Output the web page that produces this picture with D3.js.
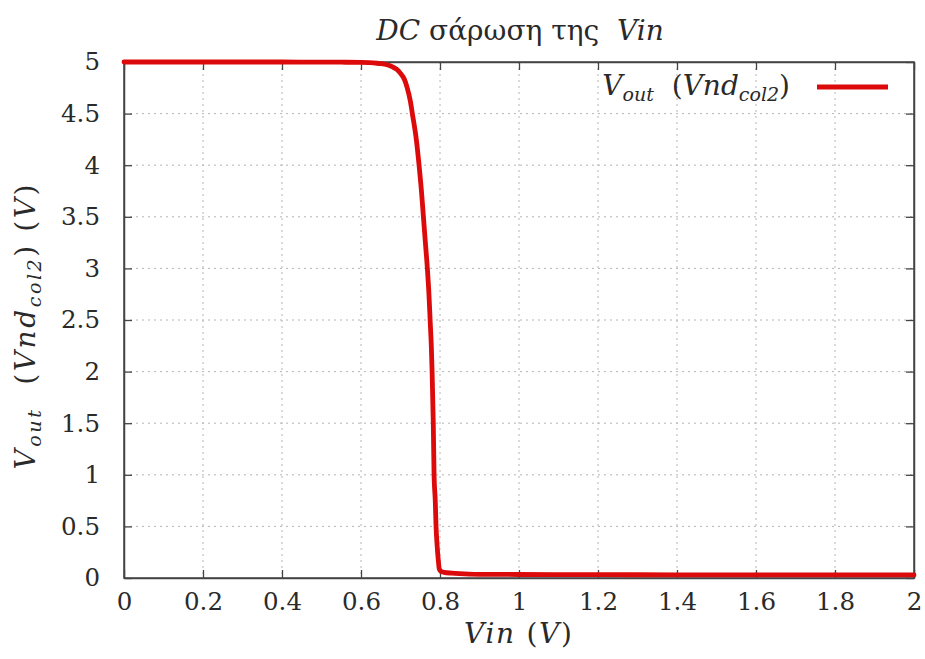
<!DOCTYPE html>
<html>
<head>
<meta charset="utf-8">
<script src="https://cdn.jsdelivr.net/npm/d3@7"></script>
<style>
  html, body { margin: 0; padding: 0; background: #fff; }
</style>
</head>
<body>
<svg id="chart" width="925" height="659"></svg>
<script>
// DC sweep of Vin: input voltage (V) and output voltage (V)
const vin  = [0, 0.1, 0.2, 0.3, 0.4, 0.5, 0.55, 0.6, 0.62, 0.64, 0.65, 0.66, 0.67, 0.68, 0.69, 0.70, 0.71, 0.717, 0.725, 0.73, 0.74, 0.747, 0.753, 0.758, 0.763, 0.768, 0.772, 0.775, 0.778, 0.780, 0.783, 0.785, 0.788, 0.790, 0.793, 0.796, 0.798, 0.802, 0.81, 0.83, 0.85, 0.874, 0.9, 1.0, 1.2, 1.4, 1.6, 1.8, 2.0];
const vout = [5, 5, 5, 5, 5, 4.999, 4.998, 4.996, 4.993, 4.988, 4.984, 4.978, 4.968, 4.952, 4.93, 4.89, 4.83, 4.75, 4.62, 4.5, 4.25, 4.0, 3.75, 3.5, 3.25, 3.0, 2.75, 2.5, 2.25, 2.0, 1.5, 1.0, 0.75, 0.5, 0.3, 0.16, 0.09, 0.065, 0.055, 0.047, 0.042, 0.038, 0.036, 0.034, 0.032, 0.031, 0.031, 0.03, 0.03];

const xTicks = [0, 0.2, 0.4, 0.6, 0.8, 1, 1.2, 1.4, 1.6, 1.8, 2];
const yTicks = [0, 0.5, 1, 1.5, 2, 2.5, 3, 3.5, 4, 4.5, 5];

const svg = d3.select("#chart");
const plotL = 124, plotR = 914, plotT = 62, plotB = 578;
const lineColor = "#dc0a0a";
const FONT = '"DejaVu Serif", "Liberation Serif", serif';
const TXT = "#2a2a2a";

const x = d3.scaleLinear().domain([0, 2]).range([plotL, plotR]);
const y = d3.scaleLinear().domain([0, 5]).range([plotB, plotT]);

// dotted grid
const grid = svg.append("g").attr("stroke", "#b4b4b4").attr("stroke-width", 1).attr("stroke-dasharray", "2,4");
xTicks.slice(1, -1).forEach(t => {
  grid.append("line").attr("x1", x(t)).attr("x2", x(t)).attr("y1", plotT).attr("y2", plotB);
});
yTicks.slice(1, -1).forEach(t => {
  grid.append("line").attr("x1", plotL).attr("x2", plotR).attr("y1", y(t)).attr("y2", y(t));
});

// axes with inward ticks on all four sides
const tickLen = 8;
const fmt = d => String(d);
const gB = svg.append("g").attr("transform", `translate(0,${plotB})`)
  .call(d3.axisBottom(x).tickValues(xTicks).tickFormat(fmt).tickSizeInner(-tickLen).tickSizeOuter(0).tickPadding(15));
const gT = svg.append("g").attr("transform", `translate(0,${plotT})`)
  .call(d3.axisTop(x).tickValues(xTicks).tickFormat("").tickSizeInner(-tickLen).tickSizeOuter(0));
const gL = svg.append("g").attr("transform", `translate(${plotL},0)`)
  .call(d3.axisLeft(y).tickValues(yTicks).tickFormat(fmt).tickSizeInner(-tickLen).tickSizeOuter(0).tickPadding(24));
const gR = svg.append("g").attr("transform", `translate(${plotR},0)`)
  .call(d3.axisRight(y).tickValues(yTicks).tickFormat("").tickSizeInner(-tickLen).tickSizeOuter(0));

[gB, gT, gL, gR].forEach(g => {
  g.select(".domain").attr("stroke", "#444").attr("stroke-width", 1.5);
  g.selectAll(".tick line").attr("stroke", "#444").attr("stroke-width", 1.3);
  g.selectAll("text").style("font-family", FONT).style("font-size", "24.5px").attr("fill", TXT);
});
gB.selectAll("text").attr("dy", "0.71em");

// frame
svg.append("rect").attr("x", plotL).attr("y", plotT).attr("width", plotR - plotL).attr("height", plotB - plotT)
  .attr("fill", "none").attr("stroke", "#444").attr("stroke-width", 1.5);

// curve
const pts = vin.map((v, i) => [v, vout[i]]);
svg.append("path").datum(pts)
  .attr("fill", "none").attr("stroke", lineColor).attr("stroke-width", 4.8)
  .attr("stroke-linejoin", "round").attr("stroke-linecap", "round")
  .attr("d", d3.line().x(d => x(d[0])).y(d => y(d[1])).curve(d3.curveMonotoneX));

function label(sel) {
  return sel.style("font-family", FONT).style("font-size", "28px").style("white-space", "pre").attr("fill", TXT);
}

// title
const title = label(svg.append("text").attr("x", 520).attr("y", 40).attr("text-anchor", "middle"));
title.append("tspan").attr("font-style", "italic").text("DC");
title.append("tspan").text(" σάρωση της  ");
title.append("tspan").attr("font-style", "italic").text("Vin");

// x-axis label
const xl = label(svg.append("text").attr("x", 518).attr("y", 643).attr("text-anchor", "middle")
  .attr("textLength", 108).attr("lengthAdjust", "spacing"));
xl.append("tspan").attr("font-style", "italic").text("Vin");
xl.append("tspan").text(" (");
xl.append("tspan").attr("font-style", "italic").text("V");
xl.append("tspan").text(")");

// y-axis label
const yl = label(svg.append("text").attr("transform", "translate(35,327) rotate(-90)").attr("text-anchor", "middle")
  .attr("textLength", 285).attr("lengthAdjust", "spacing"));
yl.append("tspan").attr("font-style", "italic").text("V");
yl.append("tspan").attr("font-style", "italic").style("font-size", "19px").attr("dy", 6).text("out");
yl.append("tspan").attr("dy", -6).text("  (");
yl.append("tspan").attr("font-style", "italic").text("Vnd");
yl.append("tspan").attr("font-style", "italic").style("font-size", "19px").attr("dy", 6).text("col2");
yl.append("tspan").attr("dy", -6).text(") (");
yl.append("tspan").attr("font-style", "italic").text("V");
yl.append("tspan").text(")");

// legend
const lg = label(svg.append("text").attr("x", 790).attr("y", 95).attr("text-anchor", "end"));
lg.append("tspan").attr("font-style", "italic").text("V");
lg.append("tspan").attr("font-style", "italic").style("font-size", "19px").attr("dy", 6).text("out");
lg.append("tspan").attr("dy", -6).text("  (");
lg.append("tspan").attr("font-style", "italic").text("Vnd");
lg.append("tspan").attr("font-style", "italic").style("font-size", "19px").attr("dy", 6).text("col2");
lg.append("tspan").attr("dy", -6).text(")");
svg.append("line").attr("x1", 817).attr("x2", 888).attr("y1", 87).attr("y2", 87)
  .attr("stroke", lineColor).attr("stroke-width", 4.8);
</script>
</body>
</html>
